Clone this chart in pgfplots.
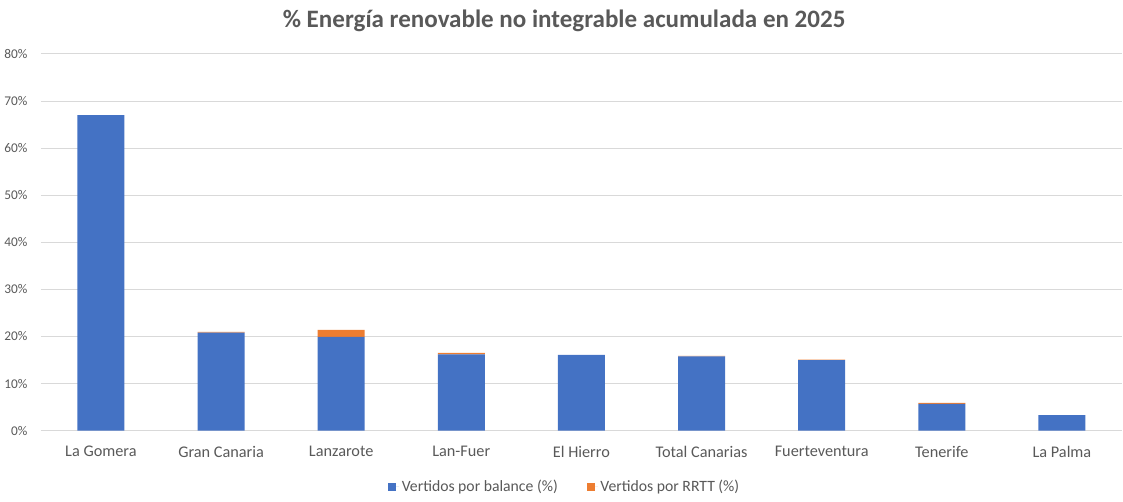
\documentclass[border=0pt]{standalone}
\usepackage{pgfplots}
\pgfplotsset{compat=1.18}
\usepackage{fontspec}
\setmainfont{Carlito}
\definecolor{serieblue}{HTML}{4472C4}
\definecolor{serieorange}{HTML}{ED7D31}
\definecolor{txtgray}{HTML}{595959}
\definecolor{gridgray}{HTML}{D9D9D9}

\begin{document}
\begin{tikzpicture}[x=1pt,y=1pt]
\begin{axis}[
    name=main,
    scale only axis,
    width=811.5pt,
    height=282.75pt,
    ybar stacked,
    bar width=35.25pt,
    xmin=-0.5, xmax=8.5,
    ymin=0, ymax=80,
    xtick=data,
    xticklabels={La Gomera,Gran Canaria,Lanzarote,Lan-Fuer,El Hierro,Total Canarias,Fuerteventura,Tenerife,La Palma},
    ytick={0,10,20,30,40,50,60,70,80},
    yticklabels={0\%,10\%,20\%,30\%,40\%,50\%,60\%,70\%,80\%},
    axis line style={draw=none},
    major tick length=0pt,
    ymajorgrids=true,
    major grid style={gridgray, line width=0.75pt},
    tick label style={txtgray},
    yticklabel style={font=\fontsize{10}{12}\selectfont, xshift=-6.5pt},
    xticklabel style={font=\fontsize{12.2}{14}\selectfont, yshift=-8pt},
    title={\textbf{\% Energía renovable no integrable acumulada en 2025}},
    title style={font=\fontsize{18.8}{22}\selectfont, color=txtgray, at={(0.484,1)}, anchor=center, yshift=18.5pt},
    legend columns=2,
    legend style={draw=none, at={(0.485,-0.1485)}, anchor=center,
        font=\fontsize{11.8}{14}\selectfont, text=txtgray,
        /tikz/every even column/.append style={column sep=20pt}},
    legend image code/.code={\fill[#1] (0pt,-3pt) rectangle (6pt,3pt); \path (0pt,0pt) -- (8pt,0pt);},
]
% Vertidos por balance
\addplot[fill=serieblue, draw=none] coordinates {
    (0,67.0) (1,20.8) (2,19.9) (3,16.2) (4,16.1) (5,15.8) (6,15.0) (7,5.7) (8,3.3)
};
\addlegendentry{Vertidos por balance (\%)}
% Vertidos por RRTT
\addplot[fill=serieorange, draw=none] coordinates {
    (0,0.0) (1,0.2) (2,1.5) (3,0.3) (4,0.0) (5,0.1) (6,0.1) (7,0.2) (8,0.0)
};
\addlegendentry{Vertidos por RRTT (\%)}
\end{axis}
\path[use as bounding box] ([xshift=-30pt,yshift=-53.25pt]main.south west) rectangle ([xshift=0.75pt,yshift=40.5pt]main.north east);
\end{tikzpicture}
\end{document}
